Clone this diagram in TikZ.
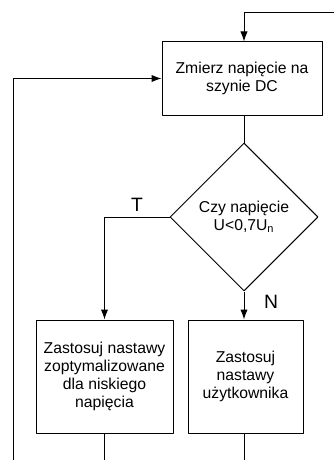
\documentclass[tikz,border=0pt]{standalone}
\usepackage{fontspec}
\setmainfont{Liberation Sans}
\usetikzlibrary{shapes.geometric,arrows.meta}
\begin{document}
\begin{tikzpicture}[x=0.75pt, y=-0.75pt, font=\fontsize{11.8}{13.4}\selectfont, line join=round, line width=0.75pt,
		>={Latex[length=7.5pt,width=5.5pt]},
		blok/.style={draw, align=center, inner sep=0pt},
		decyzja/.style={draw, diamond, align=center, inner sep=0pt, minimum width=111pt, minimum height=111pt},
		etykieta/.style={font=\fontsize{14.5}{16}\selectfont}]
	\useasboundingbox (0,0) rectangle (334,460);
	\node[blok, minimum width=120pt, minimum height=54.75pt] (pomiar) at (242,78.5) {Zmierz napięcie na\\szynie DC};
	\node[decyzja] (warunek) at (244,217) {Czy napięcie\\U<0,7U\textsubscript{n}};
	\node[blok, minimum width=102.75pt, minimum height=84.75pt] (niskie) at (104.5,376.5) {Zastosuj nastawy\\zoptymalizowane\\dla niskiego\\napięcia};
	\node[blok, minimum width=86.25pt, minimum height=84.75pt] (uzytk) at (245.5,376.5) {Zastosuj\\nastawy\\użytkownika};
	\coordinate (powrotP) at (334,13);
	\coordinate (powrotL) at (13,460);
	\coordinate (wyjscie) at (0,460);
	% powroty petli
	\draw[->] (powrotP) -| (warunek.north |- pomiar.north);
	\draw[->] (powrotL) |- (pomiar.west);
	\draw (warunek.north |- pomiar.south) -- (warunek.north);
	% galezie decyzji
	\draw[->] (warunek.west) -| (niskie.north);
	\draw[->] (warunek.south) -- (warunek.south |- uzytk.north);
	\node[etykieta] (tak) at (137,205) {T};
	\node[etykieta] (nie) at (271,302) {N};
	\draw (niskie.south) -- (niskie.south |- wyjscie);
	\draw (warunek.south |- uzytk.south) -- (warunek.south |- wyjscie);
\end{tikzpicture}
\end{document}
